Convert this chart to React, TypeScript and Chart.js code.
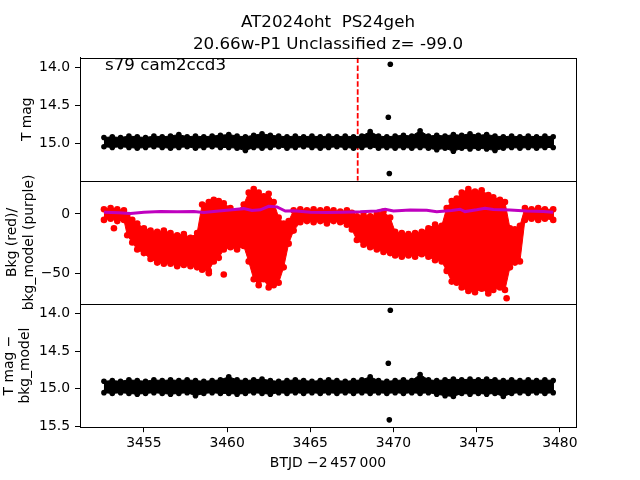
import React, { useEffect, useRef } from "react";
import { Chart, registerables } from "chart.js";

Chart.register(...registerables);

// ---------- text ----------
const TITLE_LINES = ["AT2024oht  PS24geh", "20.66w-P1 Unclassified z= -99.0"];
const ANNOTATION = "s79 cam2ccd3";
const X_LABEL = "BTJD \u22122\u2009457\u2009000";
const TOP_LABEL = "T mag";
const MID_LABEL = ["Bkg (red)/", "bkg_model (purple)"];
const BOT_LABEL = ["T mag \u2212", "bkg_model"];

// ---------- axis ranges & ticks ----------
const X_RANGE = [3451.16, 3480.97];
const TOP_RANGE = [13.873, 15.486];
const MID_RANGE = [-75.9, 27.97];
const BOT_RANGE = [13.877, 15.507];
const X_TICKS = [3455, 3460, 3465, 3470, 3475, 3480];
const TOP_TICKS = [14.0, 14.5, 15.0];
const MID_TICKS = [0, -50];
const BOT_TICKS = [14.0, 14.5, 15.0, 15.5];

// ---------- dense photometry band (edge envelopes) ----------
const bandTimes = [
  3452.6, 3453.1, 3453.6, 3454.1, 3454.6, 3455.1, 3455.6, 3456.1, 3456.6, 3457.1,
  3457.6, 3458.1, 3458.6, 3459.1, 3459.6, 3460.1, 3460.6, 3461.1, 3461.6, 3462.1,
  3462.6, 3463.1, 3463.6, 3464.1, 3464.6, 3465.1, 3465.6, 3466.1, 3466.6, 3467.1,
  3467.6, 3468.1, 3468.6, 3469.1, 3469.6, 3470.1, 3470.6, 3471.1, 3471.6, 3472.1,
  3472.6, 3473.1, 3473.6, 3474.1, 3474.6, 3475.1, 3475.6, 3476.1, 3476.6, 3477.1,
  3477.6, 3478.1, 3478.6, 3479.1, 3479.6,
];
const topUpper = [
  14.92, 14.91, 14.92, 14.90, 14.91, 14.92, 14.90, 14.91, 14.90, 14.88,
  14.91, 14.90, 14.91, 14.90, 14.89, 14.88, 14.90, 14.91, 14.89, 14.87,
  14.89, 14.90, 14.91, 14.90, 14.91, 14.90, 14.91, 14.90, 14.91, 14.90,
  14.91, 14.90, 14.84, 14.90, 14.91, 14.90, 14.89, 14.90, 14.83, 14.90,
  14.89, 14.90, 14.88, 14.89, 14.87, 14.89, 14.88, 14.90, 14.91, 14.90,
  14.91, 14.90, 14.91, 14.90, 14.91,
];
const topLower = [
  15.04, 15.05, 15.04, 15.05, 15.06, 15.05, 15.04, 15.05, 15.06, 15.05,
  15.04, 15.06, 15.05, 15.04, 15.05, 15.05, 15.06, 15.09, 15.05, 15.06,
  15.05, 15.04, 15.06, 15.05, 15.04, 15.05, 15.06, 15.05, 15.04, 15.05,
  15.06, 15.05, 15.04, 15.06, 15.05, 15.06, 15.05, 15.06, 15.05, 15.06,
  15.08, 15.06, 15.10, 15.06, 15.07, 15.06, 15.07, 15.09, 15.06, 15.05,
  15.06, 15.05, 15.06, 15.05, 15.05,
];
const botUpper = [
  14.90, 14.89, 14.90, 14.88, 14.89, 14.90, 14.88, 14.89, 14.88, 14.89,
  14.88, 14.89, 14.90, 14.89, 14.88, 14.84, 14.88, 14.89, 14.88, 14.87,
  14.89, 14.90, 14.89, 14.88, 14.89, 14.90, 14.89, 14.88, 14.89, 14.90,
  14.89, 14.88, 14.84, 14.89, 14.90, 14.89, 14.88, 14.89, 14.81, 14.88,
  14.89, 14.88, 14.87, 14.88, 14.87, 14.88, 14.87, 14.88, 14.89, 14.88,
  14.89, 14.88, 14.89, 14.88, 14.89,
];
const botLower = [
  15.05, 15.06, 15.05, 15.06, 15.07, 15.06, 15.05, 15.06, 15.07, 15.06,
  15.05, 15.09, 15.06, 15.05, 15.06, 15.06, 15.07, 15.06, 15.05, 15.06,
  15.07, 15.05, 15.06, 15.05, 15.06, 15.05, 15.06, 15.05, 15.06, 15.05,
  15.06, 15.05, 15.06, 15.05, 15.06, 15.05, 15.06, 15.05, 15.06, 15.05,
  15.07, 15.09, 15.10, 15.06, 15.07, 15.06, 15.07, 15.06, 15.10, 15.06,
  15.05, 15.06, 15.05, 15.06, 15.05,
];

// isolated points near BTJD 3469.8
const topOutTimes = [3469.81, 3469.69, 3469.75];
const topOutMags = [13.96, 14.654, 15.39];
const botOutTimes = [3469.81, 3469.69, 3469.75];
const botOutMags = [13.96, 14.66, 15.41];

// vertical marker in the top panel
const markerTime = 3467.85;

// ---------- background (red) envelope ----------
const redTimes = [
  3452.6, 3453.0, 3453.4, 3453.8, 3454.0, 3454.3, 3454.6, 3455.0, 3455.4, 3455.8,
  3456.2, 3456.6, 3457.0, 3457.4, 3457.8, 3458.2, 3458.5, 3458.9, 3459.2, 3459.5,
  3459.8, 3460.2, 3460.6, 3461.0, 3461.3, 3461.6, 3461.9, 3462.2, 3462.5, 3462.8,
  3463.1, 3463.4, 3463.7, 3464.0, 3464.4, 3464.8, 3465.2, 3465.6, 3466.0, 3466.4,
  3466.8, 3467.2, 3467.5, 3467.8, 3468.2, 3468.6, 3469.0, 3469.4, 3469.8, 3470.1,
  3470.5, 3470.9, 3471.3, 3471.7, 3472.1, 3472.5, 3472.9, 3473.2, 3473.5, 3473.8,
  3474.1, 3474.5, 3474.9, 3475.3, 3475.7, 3476.0, 3476.4, 3476.7, 3477.0, 3477.3,
  3477.6, 3477.9, 3478.3, 3478.7, 3479.1, 3479.6,
];
const redUpper = [
  4, 5, 4, 3, -2, -5, -8, -12, -14, -15,
  -14, -16, -18, -17, -20, -16, 8, 10, 12, 11,
  9, 5, 2, 8, 18, 21, 18, 15, 17, 10,
  -3, -8, -6, 3, 4, 3, 4, 3, 4, 3,
  2, 3, 1, -2, -1, -2, 0, 2, -3, -15,
  -16, -17, -16, -15, -12, -9, -10, 5, 11, 13,
  18, 21, 19, 20, 16, 14, 12, 10, -12, -13,
  -10, 5, 4, 5, 4, 4,
];
const redLower = [
  -5, -4, -6, -5, -18, -24, -30, -33, -38, -41,
  -42, -42, -44, -43, -44, -45, -47, -48, -40, -37,
  -30, -28, -30, -27, -40, -55, -60, -55, -62, -60,
  -58, -45, -25, -14, -7, -6, -7, -6, -8, -6,
  -7, -9, -13, -22, -26, -28, -30, -32, -33, -35,
  -36, -35, -36, -34, -36, -39, -40, -48, -57, -58,
  -62, -65, -66, -63, -67, -64, -62, -64, -45, -41,
  -40, -5, -4, -5, -4, -5,
];
const redOutTimes = [3453.2, 3458.9, 3459.8, 3476.8];
const redOutValues = [-12, -50, -51, -71];

// ---------- background model (purple) ----------
const purpleTimes = [
  3452.6, 3453.5, 3454.2, 3455.0, 3456.0, 3457.0, 3458.0, 3458.6, 3459.5, 3460.3,
  3461.0, 3461.5, 3462.0, 3462.5, 3463.0, 3463.5, 3464.0, 3465.0, 3466.0, 3467.0,
  3468.0, 3469.0, 3469.5, 3470.0, 3471.0, 3472.0, 3472.6, 3473.5, 3474.0, 3474.3,
  3475.0, 3475.5, 3476.0, 3477.0, 3477.5, 3478.0, 3479.0, 3479.6,
];
const purpleValues = [
  1.5, 1.0, 0.4, 1.5, 2.0, 1.8, 2.0, 1.2, 2.5, 3.5,
  4.5, 3.0, 3.5, 6.5, 6.0, 2.5, 2.8, 1.5, 1.2, 1.5,
  1.8, 2.5, 4.0, 2.5, 3.4, 3.2, 1.8, 3.0, 4.0, 2.0,
  3.5, 4.8, 3.8, 3.4, 3.0, 2.5, 2.0, 1.5,
];

const FONT = "DejaVu Sans";
const BLACK = "#000000";
const RED = "#ff0000";
const PURPLE = "#bf00bf";

const pts = (ts: number[], vs: number[]) => ts.map((t, i) => ({ x: t, y: vs[i] }));
// closed outline: along the upper edge, back along the lower edge
const outline = (ts: number[], up: number[], lo: number[]) => [
  ...pts(ts, up),
  ...pts(ts, lo).reverse(),
];

export default function App() {
  const ref = useRef<HTMLCanvasElement>(null);

  useEffect(() => {
    const canvas = ref.current;
    if (!canvas) return;
    Chart.defaults.font.family = FONT;
    Chart.defaults.font.size = 13.9;
    Chart.defaults.color = BLACK;

    const framePlugin = {
      id: "frames",
      afterDraw(chart: any) {
        const { ctx, chartArea } = chart;
        ctx.save();
        ctx.strokeStyle = BLACK;
        ctx.lineWidth = 1;
        for (const id of ["yTop", "yMid", "yBot"]) {
          const s = chart.scales[id];
          const top = Math.round(s.top) + 0.5;
          const bot = Math.round(s.bottom) + 0.5;
          const l = Math.round(chartArea.left) + 0.5;
          const r = Math.round(chartArea.right) + 0.5;
          ctx.strokeRect(l, top, r - l, bot - top);
        }
        ctx.fillStyle = BLACK;
        ctx.font = `16.7px "${FONT}"`;
        ctx.textAlign = "center";
        ctx.textBaseline = "alphabetic";
        const cx = (chartArea.left + chartArea.right) / 2;
        ctx.fillText(TITLE_LINES[0], cx, 27);
        ctx.fillText(TITLE_LINES[1], cx, 49);
        ctx.textAlign = "left";
        ctx.fillText(ANNOTATION, 105, 70);
        ctx.restore();
      },
    };

    const tickGrid = {
      display: true,
      drawOnChartArea: false,
      drawTicks: true,
      tickLength: 5,
      tickColor: BLACK,
      tickWidth: 1,
    };
    const border = { display: true, color: BLACK, width: 1 };
    const setTicks = (values: number[]) => (scale: any) => {
      scale.ticks = values.map((v) => ({ value: v }));
    };
    const fmt1 = (v: any) => Number(v).toFixed(1);
    const fmtInt = (v: any) => (Number(v) < 0 ? "\u2212" + Math.abs(Number(v)) : String(v));

    const band = (data: any[], yAxisID: string, color: string, r: number, order: number) => ({
      data,
      yAxisID,
      borderColor: color,
      backgroundColor: color,
      borderWidth: 1,
      pointRadius: r,
      pointBackgroundColor: color,
      pointBorderWidth: 0,
      fill: "shape",
      order,
    });

    const chart = new Chart(canvas, {
      type: "line",
      data: {
        datasets: [
          {
            data: pts(topOutTimes, topOutMags),
            yAxisID: "yTop",
            showLine: false,
            pointRadius: 2.8,
            pointBackgroundColor: BLACK,
            pointBorderWidth: 0,
            order: 0,
          },
          {
            data: pts(botOutTimes, botOutMags),
            yAxisID: "yBot",
            showLine: false,
            pointRadius: 2.8,
            pointBackgroundColor: BLACK,
            pointBorderWidth: 0,
            order: 0,
          },
          {
            data: pts(purpleTimes, purpleValues),
            yAxisID: "yMid",
            borderColor: PURPLE,
            borderWidth: 3,
            pointRadius: 0,
            fill: false,
            order: 1,
          },
          band(outline(bandTimes, topUpper, topLower), "yTop", BLACK, 2.8, 2),
          band(outline(bandTimes, botUpper, botLower), "yBot", BLACK, 2.8, 2),
          band(outline(redTimes, redUpper, redLower), "yMid", RED, 3.3, 4),
          {
            data: pts(redOutTimes, redOutValues),
            yAxisID: "yMid",
            showLine: false,
            pointRadius: 3.3,
            pointBackgroundColor: RED,
            pointBorderWidth: 0,
            order: 4,
          },
          {
            data: [
              { x: markerTime, y: TOP_RANGE[0] },
              { x: markerTime, y: TOP_RANGE[1] },
            ],
            yAxisID: "yTop",
            borderColor: RED,
            borderWidth: 1.8,
            borderDash: [5.5, 2.4],
            pointRadius: 0,
            fill: false,
            order: 5,
          },
        ],
      },
      options: {
        animation: false,
        responsive: false,
        devicePixelRatio: 1,
        layout: { padding: { left: 0, right: 64, top: 57.6, bottom: 0 } },
        plugins: {
          legend: { display: false },
          title: { display: false },
          tooltip: { enabled: false },
        },
        events: [],
        scales: {
          x: {
            type: "linear",
            position: "bottom",
            min: X_RANGE[0],
            max: X_RANGE[1],
            grid: tickGrid,
            border,
            afterBuildTicks: setTicks(X_TICKS),
            afterFit: (s: any) => {
              s.height = 52.8;
            },
            ticks: {
              autoSkip: false,
              maxRotation: 0,
              padding: 3,
              callback: (v: any) => String(v),
            },
            title: {
              display: true,
              text: X_LABEL,
              padding: { top: 0, bottom: 8.7 },
            },
          },
          yBot: {
            type: "linear",
            position: "left",
            stack: "panels",
            stackWeight: 1,
            weight: 1,
            reverse: true,
            min: BOT_RANGE[0],
            max: BOT_RANGE[1],
            grid: tickGrid,
            border,
            afterBuildTicks: setTicks(BOT_TICKS),
            afterFit: (s: any) => {
              s.width = 80;
            },
            ticks: { padding: 5, callback: fmt1 },
            title: { display: true, text: BOT_LABEL, padding: { top: 0.8, bottom: 0 } },
          },
          yMid: {
            type: "linear",
            position: "left",
            stack: "panels",
            stackWeight: 1,
            weight: 2,
            min: MID_RANGE[0],
            max: MID_RANGE[1],
            grid: tickGrid,
            border,
            afterBuildTicks: setTicks(MID_TICKS),
            afterFit: (s: any) => {
              s.width = 80;
            },
            ticks: { padding: 5, callback: fmtInt },
            title: { display: true, text: MID_LABEL, padding: { top: 4, bottom: 0 } },
          },
          yTop: {
            type: "linear",
            position: "left",
            stack: "panels",
            stackWeight: 1,
            weight: 3,
            reverse: true,
            min: TOP_RANGE[0],
            max: TOP_RANGE[1],
            grid: tickGrid,
            border,
            afterBuildTicks: setTicks(TOP_TICKS),
            afterFit: (s: any) => {
              s.width = 80;
            },
            ticks: { padding: 5, callback: fmt1 },
            title: { display: true, text: TOP_LABEL, padding: { top: 19, bottom: 0 } },
          },
        },
      } as any,
      plugins: [framePlugin],
    });

    return () => chart.destroy();
  }, []);

  return (
    <div style={{ position: "absolute", left: 0, top: 0, width: 640, height: 480, background: "#fff" }}>
      <canvas ref={ref} width={640} height={480} style={{ display: "block" }} />
    </div>
  );
}
